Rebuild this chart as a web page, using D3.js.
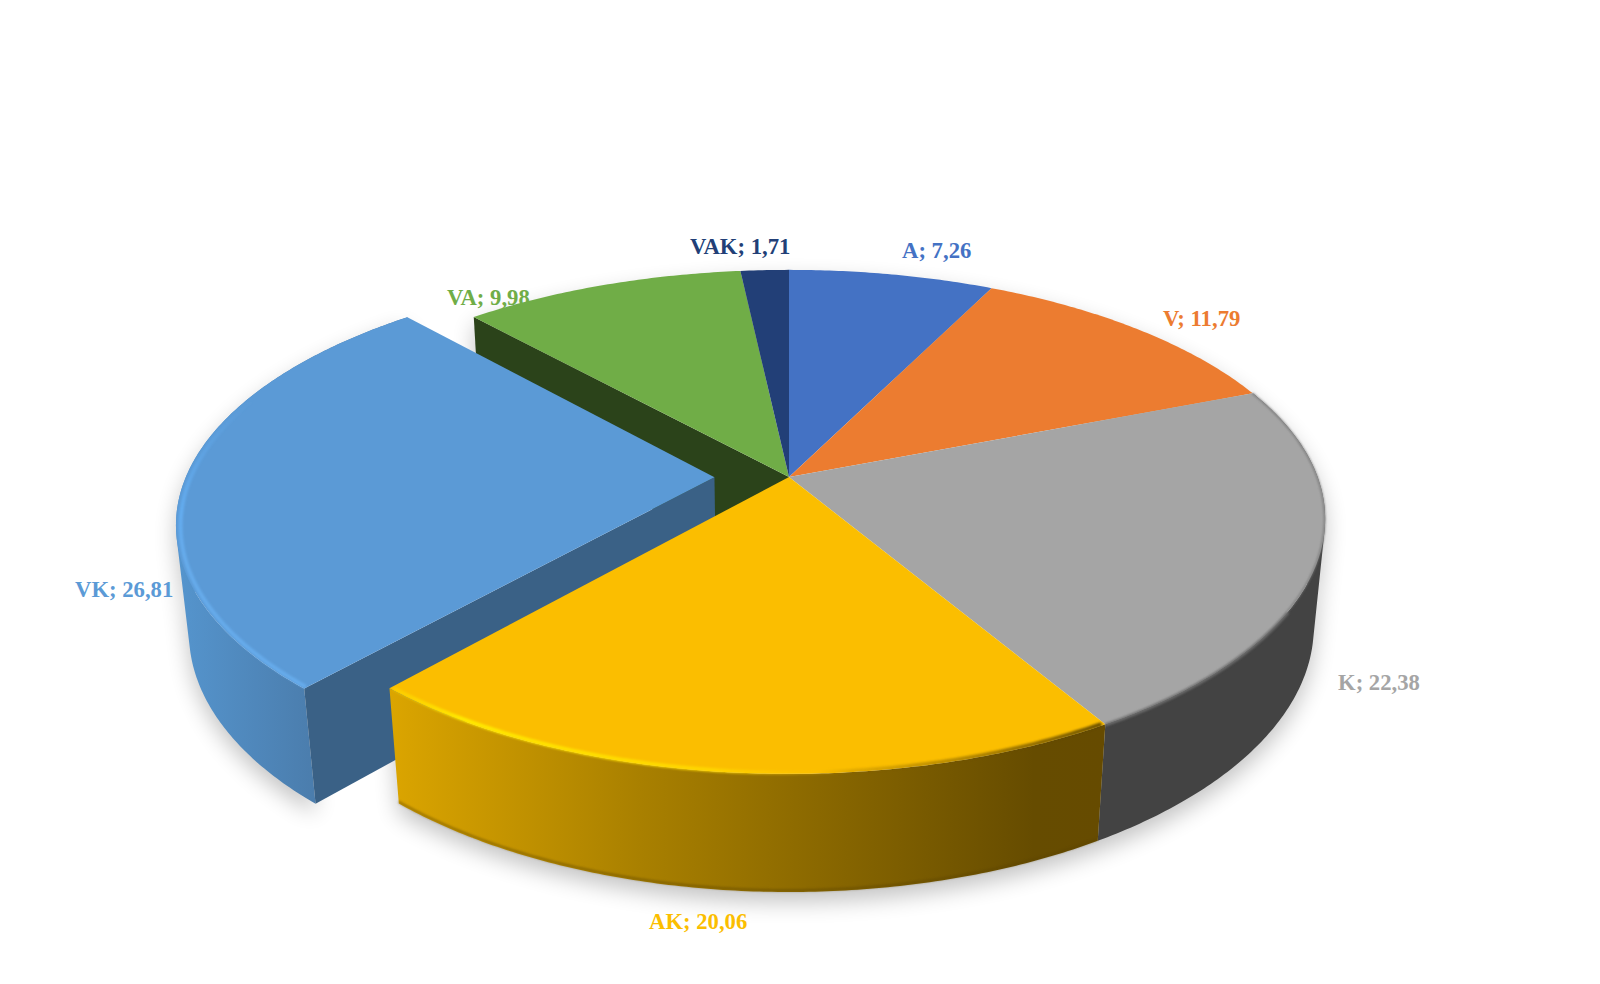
<!DOCTYPE html>
<html>
<head>
<meta charset="utf-8">
<script src="https://cdn.jsdelivr.net/npm/d3@7/dist/d3.min.js"></script>
<style>
html,body{margin:0;padding:0;background:#fff;overflow:hidden}
svg{display:block}
text{font-family:"Liberation Serif",serif;font-weight:700;font-size:22.7px}
</style>
</head>
<body>
<svg id="chart" width="1600" height="984"></svg>
<script>
// ---- data ----
const categories = ["A","V","K","AK","VK","VA","VAK"];
const values = [7.26,11.79,22.38,20.06,26.81,9.98,1.71];
const valueLabels = ["7,26","11,79","22,38","20,06","26,81","9,98","1,71"];
// ---- styles ----
const topColors = ["#4472C4","#EC7C30","#A5A5A5","#FBBE00","#5B9AD6","#70AD47","#223F77"];
const sideColors = ["#2B4475","#8E4B1D","#434343","url(#sideAK)","url(#sideVK)","#2B431A","#14264A"];
const explodeBy = [0,0,0,0,0.141,0,0];
const labelAnchors = [[902,258],[1163,326],[1338,690],[649,929],[75,597],[447,305],[690,254]];

// ---- projection ----
const W = 1600, H = 984;
const cx = 789, cy = 477;
const perspX = 0.167, perspY = 0.178, depthX = 0.021, depthY = 0.031;
const sx = d3.scaleLinear().domain([-1,1]).range([-528.6,528.6]);
const sy = d3.scaleLinear().domain([-1,1]).range([244,-244]);
const sh = d3.scaleLinear().domain([0,1]).range([0,110]);
function project(p,q,h){
  return [cx + sx(p)/(1 + perspX*q + depthX*h),
          cy + (sy(q)+sh(h))/(1 + perspY*q + depthY*h)];
}
const pie = d3.pie().sort(null).value(d=>d).startAngle(0).endAngle(2*Math.PI);
const arcs = pie(values).map((a,i)=>{
  const mid=(a.startAngle+a.endAngle)/2;
  return {i, a0:a.startAngle, a1:a.endAngle,
    ox:explodeBy[i]*Math.sin(mid), oy:explodeBy[i]*Math.cos(mid)};
});
const rim=(d,ang,r,h)=>project(d.ox+r*Math.sin(ang), d.oy+r*Math.cos(ang), h);
const centre=(d,h)=>project(d.ox,d.oy,h);
function sweep(a0,a1){
  const n=Math.max(2,Math.ceil(Math.abs(a1-a0)/0.01));
  return d3.range(n+1).map(k=>a0+(a1-a0)*k/n);
}
const line=d3.line();
const closed=pts=>line(pts)+"Z";
const topPath=d=>closed([centre(d,0),...sweep(d.a0,d.a1).map(t=>rim(d,t,1,0))]);
// the side is a strip of small quads, so that the outline keeps its tangent edge where the rim turns away
function sidePath(d){
  const ts=sweep(d.a0,d.a1);
  return d3.pairs(ts).map(([t0,t1])=>{
    const q=[rim(d,t0,1,0),rim(d,t1,1,0),rim(d,t1,1,1),rim(d,t0,1,1)];
    return closed(d3.polygonArea(q)<0 ? q.reverse() : q);
  }).join("");
}
const wallPath=(d,ang)=>closed([centre(d,0),rim(d,ang,1,0),rim(d,ang,1,1),centre(d,1)]);
const arcPath=(d,a0,a1,r,h)=>line(sweep(a0,a1).map(t=>rim(d,t,r,h)));

// ---- defs ----
const svg=d3.select("#chart");
const defs=svg.append("defs");
function grad(id,x1,x2,y1,y2,stops){
  const g=defs.append("linearGradient").attr("id",id).attr("gradientUnits","userSpaceOnUse")
    .attr("x1",x1).attr("x2",x2).attr("y1",y1).attr("y2",y2);
  stops.forEach(s=>g.append("stop").attr("offset",s[0]).attr("stop-color",s[1]).attr("stop-opacity",s[2]===undefined?1:s[2]));
}
grad("sideAK",390,1105,0,0,[[0,"#DBA500"],[0.35,"#A98000"],[0.6,"#8A6800"],[0.9,"#664C00"],[1,"#664B00"]]);
grad("sideVK",175,325,0,0,[[0,"#5595CE"],[1,"#4A7BAA"]]);
grad("bevelAK",390,1105,0,0,[[0,"#FFE800",0.3],[0.1,"#FFEA00",1],[0.45,"#FFD800",0.9],[0.6,"#FFC800",0.2],[0.65,"#7A5A00",0.2],[1,"#5A4300",0.9]]);
grad("bevelVK",0,0,400,560,[[0,"#64AEF2",0],[0.7,"#64AEF2",0.9],[1,"#68AEEF",0.85]]);
function blur(id,s){
  defs.append("filter").attr("id",id).attr("filterUnits","userSpaceOnUse")
    .attr("x",0).attr("y",0).attr("width",W).attr("height",H)
    .append("feGaussianBlur").attr("stdDeviation",s);
}
blur("soft",0.9); blur("shadow",11);
const byName=n=>arcs[categories.indexOf(n)];
const K=byName("K"),AK=byName("AK"),VK=byName("VK"),VA=byName("VA");
const front=[K,AK];
const back=arcs.filter(d=>d!==VK && !front.includes(d));

// ---- shadow ----
const shadow=svg.append("g").attr("filter","url(#shadow)").attr("transform","translate(0,10)").attr("opacity",0.23);
shadow.selectAll("path").data(arcs).join("path").attr("d",sidePath).attr("fill","#000");

// ---- labels (beneath the pie) ----
svg.append("g").selectAll("text").data(arcs).join("text")
  .attr("x",d=>labelAnchors[d.i][0]).attr("y",d=>labelAnchors[d.i][1])
  .attr("fill",d=>topColors[d.i])
  .text(d=>`${categories[d.i]}; ${valueLabels[d.i]}`);

// ---- back of the pie and wall of the gap ----
svg.append("path").attr("d",wallPath(VA,VA.a0)).attr("fill","#2B431A");

// ---- exploded slice ----
const gVK=svg.append("g");
gVK.append("path").attr("d",sidePath(VK)).attr("fill",sideColors[VK.i]);
gVK.append("path").attr("d",wallPath(VK,VK.a0)).attr("fill","#3A6186");
gVK.append("path").attr("d",topPath(VK)).attr("fill",topColors[VK.i]);
gVK.append("path").attr("d",arcPath(VK,VK.a0+0.006,VK.a0+1.2,0.992,0.012))
  .attr("fill","none").attr("stroke","url(#bevelVK)").attr("stroke-width",4).attr("filter","url(#soft)");

// ---- main pie ----
const gMain=svg.append("g");
gMain.selectAll("path.side").data(front).join("path").attr("class","side")
  .attr("d",sidePath).attr("fill",d=>sideColors[d.i]);
gMain.append("path").attr("d",arcPath(AK,AK.a0,AK.a1,1,0.985))
  .attr("fill","none").attr("stroke","#5A4300").attr("stroke-width",2.5).attr("filter","url(#soft)").attr("opacity",0.45);
gMain.selectAll("path.top").data([...back,...front]).join("path").attr("class","top")
  .attr("d",topPath).attr("fill",d=>topColors[d.i]);
gMain.append("path").attr("d",arcPath(K,K.a0,K.a0+0.9,0.999,0))
  .attr("fill","none").attr("stroke","#777777").attr("stroke-width",1.5).attr("filter","url(#soft)");
gMain.append("path").attr("d",arcPath(K,K.a0+0.9,K.a1,1,0.005))
  .attr("fill","none").attr("stroke","#6E6E6E").attr("stroke-width",3).attr("filter","url(#soft)");
gMain.append("path").attr("d",arcPath(AK,AK.a0+0.003,AK.a1-0.003,0.994,0.008))
  .attr("fill","none").attr("stroke","url(#bevelAK)").attr("stroke-width",4).attr("filter","url(#soft)");
</script>
</body>
</html>
